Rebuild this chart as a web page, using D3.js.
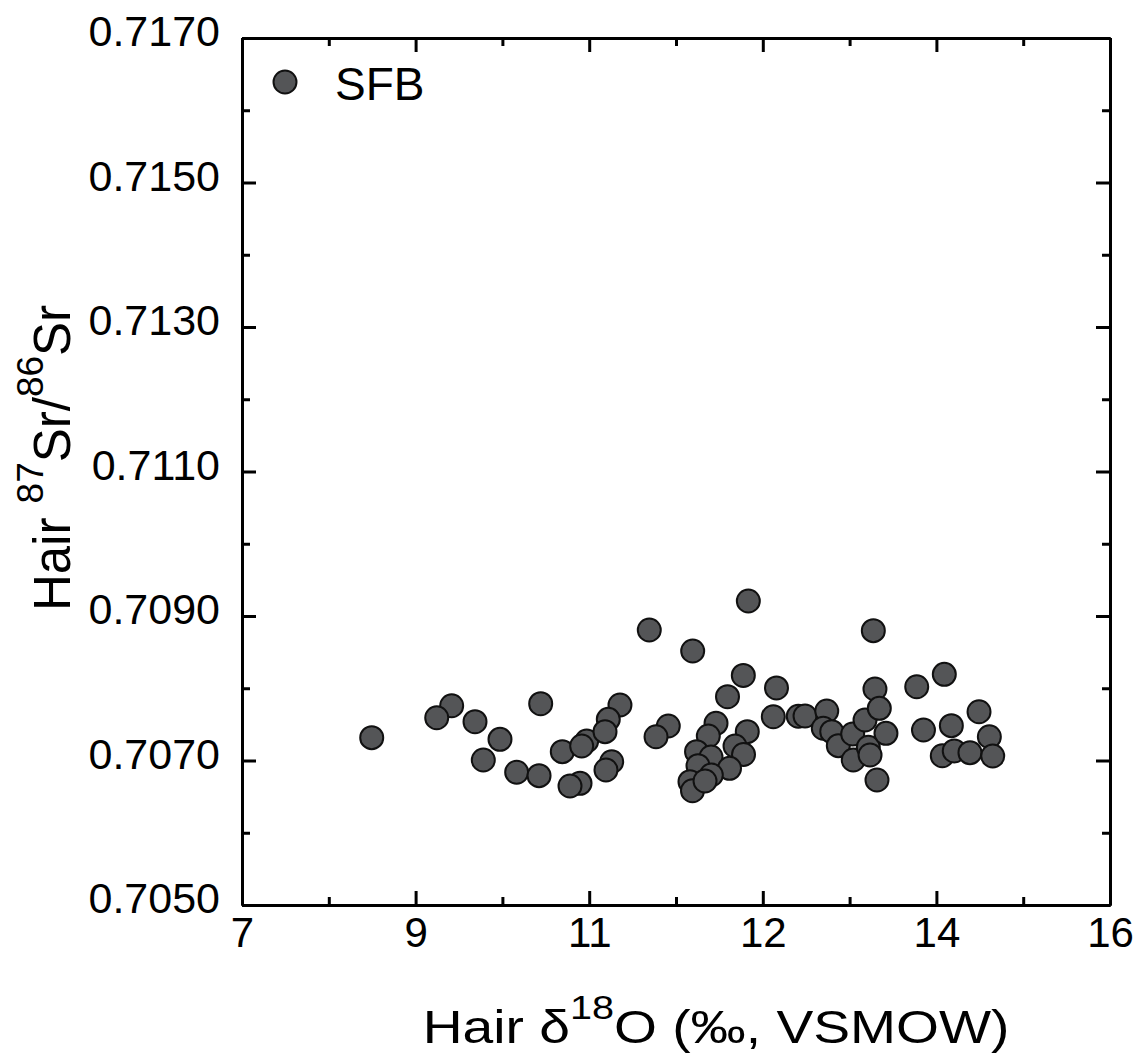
<!DOCTYPE html>
<html>
<head>
<meta charset="utf-8">
<script src="https://cdn.jsdelivr.net/npm/d3@7"></script>
<style>
  body { margin: 0; background: #fff; }
  svg text { font-family: "Liberation Sans", Arial, sans-serif; fill: #000; }
</style>
</head>
<body>
<div id="chart"></div>
<script>
// hair d18O (per mil, VSMOW) and 87Sr/86Sr
const sfbO18 = [8.345, 9.174, 9.019, 9.416, 9.675, 9.502, 9.848, 10.080, 10.097, 10.321,
  10.574, 10.522, 10.505, 10.401, 10.919, 10.798, 10.764, 10.833, 10.774, 12.250,
  11.223, 11.673, 12.198, 12.034, 12.542, 11.420, 11.293, 11.915, 11.835, 12.239,
  11.713, 12.112, 12.200, 11.863, 11.728, 12.055, 11.866, 11.645, 11.671, 11.801,
  12.509, 12.768, 12.838, 13.063, 13.027, 13.115, 13.183, 13.332, 13.338, 13.460,
  13.494, 13.512, 13.546, 13.563, 13.608, 13.677, 13.584, 13.996, 14.282, 14.066,
  14.355, 14.642, 14.261, 14.385, 14.548, 14.749, 14.784];
const sfbSr = [0.707316, 0.707758, 0.707592, 0.707537, 0.707293, 0.707007, 0.706837, 0.706790, 0.707786, 0.707122,
  0.707270, 0.707201, 0.706684, 0.706647, 0.707768, 0.707570, 0.707399, 0.706983, 0.706869, 0.709208,
  0.708806, 0.708516, 0.708177, 0.707883, 0.708004, 0.707478, 0.707329, 0.707515, 0.707339, 0.707399,
  0.707122, 0.707201, 0.707083, 0.707048, 0.706928, 0.706892, 0.706799, 0.706707, 0.706581, 0.706716,
  0.707606, 0.707612, 0.707616, 0.707685, 0.707446, 0.707399, 0.707205, 0.707367, 0.707007, 0.707561,
  0.707183, 0.707076, 0.708797, 0.707990, 0.707722, 0.707376, 0.706730, 0.708021, 0.708193, 0.707422,
  0.707482, 0.707675, 0.707066, 0.707132, 0.707108, 0.707329, 0.707062];

// tick labels as printed on the figure (x labels are evenly spaced)
const xTickLabels = ["7", "9", "11", "12", "14", "16"];
const yTickLabels = ["0.7050", "0.7070", "0.7090", "0.7110", "0.7130", "0.7150", "0.7170"];
const seriesName = "SFB";

const width = 1138, height = 1059;
const margin = {top: 38, right: 28, bottom: 154, left: 242};
const innerW = width - margin.left - margin.right,
      innerH = height - margin.top - margin.bottom;

const svg = d3.select('#chart').append('svg')
  .attr('width', width)
  .attr('height', height);

const chart = svg.append('g')
  .attr('transform', `translate(${margin.left},${margin.top})`);

const x = d3.scaleLinear([7, 16], [0, innerW]);
const y = d3.scaleLinear([+yTickLabels[0], +yTickLabels[yTickLabels.length - 1]], [innerH, 0]);

// major ticks sit evenly across the domain, minor ones half way between
const xMajor = xTickLabels.map((d, i) => x.invert(i * innerW / (xTickLabels.length - 1)));
const xMinor = d3.pairs(xMajor).map(([a, b]) => (a + b) / 2);
const yMajor = yTickLabels.map(Number);
const yMinor = d3.pairs(yMajor).map(([a, b]) => (a + b) / 2);

const majorLen = 14, minorLen = 8;

function styleAxis(g) {
  g.select('.domain').attr('stroke', '#000').attr('stroke-width', 3);
  g.selectAll('.tick line').attr('stroke', '#000').attr('stroke-width', 3);
}

// bottom axis with labels
chart.append('g')
  .attr('transform', `translate(0,${innerH})`)
  .call(d3.axisBottom(x).tickValues(xMajor).tickSize(-majorLen).tickSizeOuter(0)
    .tickPadding(12).tickFormat((d, i) => xTickLabels[i]))
  .call(styleAxis)
  .call(g => g.selectAll('text').attr('font-size', 42));
chart.append('g')
  .attr('transform', `translate(0,${innerH})`)
  .call(d3.axisBottom(x).tickValues(xMinor).tickSize(-minorLen).tickSizeOuter(0).tickFormat(''))
  .call(styleAxis);

// top axis, ticks only
chart.append('g')
  .call(d3.axisTop(x).tickValues(xMajor).tickSize(-majorLen).tickSizeOuter(0).tickFormat(''))
  .call(styleAxis);
chart.append('g')
  .call(d3.axisTop(x).tickValues(xMinor).tickSize(-minorLen).tickSizeOuter(0).tickFormat(''))
  .call(styleAxis);

// left axis with labels
chart.append('g')
  .call(d3.axisLeft(y).tickValues(yMajor).tickSize(-majorLen).tickSizeOuter(0)
    .tickPadding(22).tickFormat((d, i) => yTickLabels[i]))
  .call(styleAxis)
  .call(g => g.selectAll('text').attr('font-size', 43).attr('y', -6));
chart.append('g')
  .call(d3.axisLeft(y).tickValues(yMinor).tickSize(-minorLen).tickSizeOuter(0).tickFormat(''))
  .call(styleAxis);

// right axis, ticks only
chart.append('g')
  .attr('transform', `translate(${innerW},0)`)
  .call(d3.axisRight(y).tickValues(yMajor).tickSize(-majorLen).tickSizeOuter(0).tickFormat(''))
  .call(styleAxis);
chart.append('g')
  .attr('transform', `translate(${innerW},0)`)
  .call(d3.axisRight(y).tickValues(yMinor).tickSize(-minorLen).tickSizeOuter(0).tickFormat(''))
  .call(styleAxis);

// points
const data = sfbO18.map((d, i) => ({o: d, sr: sfbSr[i]}));
const dotFill = '#545557', dotStroke = '#111', dotR = 11.5;

chart.append('g').classed('dots', true)
  .selectAll('circle')
  .data(data)
  .join('circle')
  .attr('cx', d => x(d.o))
  .attr('cy', d => y(d.sr))
  .attr('r', dotR)
  .attr('fill', dotFill)
  .attr('stroke', dotStroke)
  .attr('stroke-width', 2);

// legend
const legend = chart.append('g').attr('transform', 'translate(43,44)');
legend.append('circle')
  .attr('r', dotR).attr('fill', dotFill).attr('stroke', dotStroke).attr('stroke-width', 2);
legend.append('text')
  .attr('x', 50).attr('y', 18)
  .attr('font-size', 46)
  .text(seriesName);

// axis titles (the x title is a bit wider in the figure, so stretch it)
const xTitle = svg.append('text')
  .attr('transform', 'translate(716,1043) scale(1.2,1)')
  .attr('text-anchor', 'middle')
  .attr('font-size', 46);
xTitle.append('tspan').text('Hair \u03B4');
xTitle.append('tspan').attr('font-size', 33).attr('dy', -24).text('18');
xTitle.append('tspan').attr('dy', 24).text('O (\u2030, VSMOW)');

const yTitle = svg.append('text')
  .attr('transform', 'translate(70,458) rotate(-90)')
  .attr('text-anchor', 'middle')
  .attr('font-size', 51);
yTitle.append('tspan').text('Hair ');
yTitle.append('tspan').attr('font-size', 37).attr('dy', -27).text('87');
yTitle.append('tspan').attr('dy', 27).text('Sr/');
yTitle.append('tspan').attr('font-size', 37).attr('dy', -27).text('86');
yTitle.append('tspan').attr('dy', 27).text('Sr');
</script>
</body>
</html>
